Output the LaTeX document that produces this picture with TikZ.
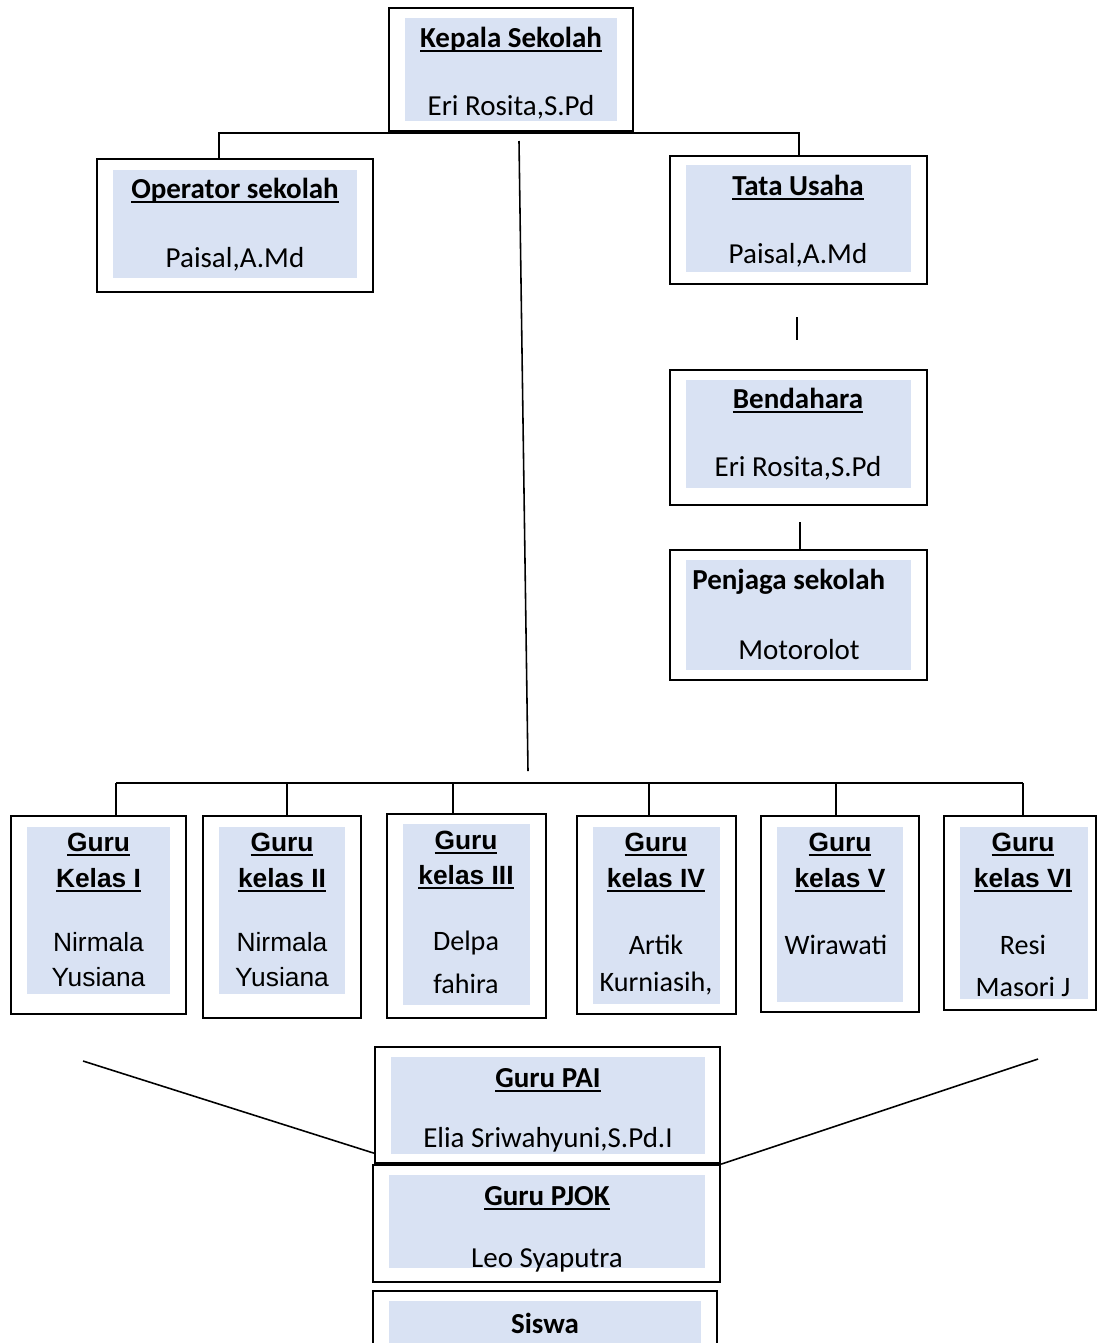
\documentclass[tikz,border=0pt]{standalone}
\usepackage{fontspec}
\setmainfont{Carlito}
\newfontfamily\arialfont{Liberation Sans}
\usetikzlibrary{fit,calc}
\definecolor{boxblue}{RGB}{217,226,243}
\newcommand{\ulined}[1]{\setbox0=\hbox{#1}\rlap{\rule[-2.6pt]{\wd0}{1.2pt}}\box0}

\begin{document}
\begin{tikzpicture}[x=0.02cm,y=-0.02cm,
  frame/.style={draw,line width=1.3pt,inner sep=0pt},
  shade/.style={fill=boxblue,inner sep=0pt},
  link/.style={line width=0.9pt},
  ttl/.style={font=\fontsize{16.5}{19}\selectfont\bfseries,yshift=-0.04cm},
  nm/.style={font=\fontsize{16.5}{19}\selectfont,yshift=-0.04cm},
  gttl/.style={font=\arialfont\fontsize{15}{18}\selectfont\bfseries,yshift=-0.04cm},
  gnm/.style={font=\arialfont\fontsize{15}{18}\selectfont,yshift=-0.04cm},
  cnm/.style={font=\fontsize{16}{19}\selectfont,yshift=-0.04cm},
]
\useasboundingbox (0,0) rectangle (1097,1343);
\clip (0,0) rectangle (1097,1343);

% Kepala sekolah
\node[frame,fit={(389,8) (633,131)}] (kepala) {};
\node[shade,fit={(405,18) (617,121)}] (kepalaS) {};
\node[ttl] (kepalaT) at (511,38) {\ulined{Kepala Sekolah}};
\node[nm] (kepalaN) at (511,105) {Eri Rosita,S.Pd};

% Operator sekolah
\node[frame,fit={(97,159) (373,292)}] (opsek) {};
\node[shade,fit={(113,170) (357,278)}] (opsekS) {};
\node[ttl] (opsekT) at (235,189) {\ulined{Operator sekolah}};
\node[nm] (opsekN) at (235,257) {Paisal,A.Md};

% Tata usaha
\node[frame,fit={(670,156) (927,284)}] (tu) {};
\node[shade,fit={(686,165) (911,272)}] (tuS) {};
\node[ttl] (tuT) at (798,186) {\ulined{Tata Usaha}};
\node[nm] (tuN) at (798,253) {Paisal,A.Md};

% Bendahara
\node[frame,fit={(670,370) (927,505)}] (bend) {};
\node[shade,fit={(686,380) (911,488)}] (bendS) {};
\node[ttl] (bendT) at (798,399) {\ulined{Bendahara}};
\node[nm] (bendN) at (798,466) {Eri Rosita,S.Pd};

% Penjaga sekolah
\node[frame,fit={(670,550) (927,680)}] (penjaga) {};
\node[shade,fit={(686,560) (911,670)}] (penjagaS) {};
\node[ttl,anchor=west,inner sep=0pt] (penjagaT) at (692,580) {Penjaga sekolah};
\node[nm] (penjagaN) at (799,648) {Motorolot};

% top connectors
\coordinate (busL) at (219,133);
\coordinate (busR) at (799,133);
\draw[link] (opsek.north -| busL) -- (busL) -- (busR) -- (tu.north -| busR);
\coordinate (gapA) at (797,317);
\coordinate (gapB) at (797,340);
\draw[link] (gapA) -- (gapB);
\coordinate (bendLo) at (800,522);
\draw[link] (bendLo) -- (penjaga.north -| bendLo);
\coordinate (stemTop) at (519,141);
\coordinate (stemEnd) at (528,771);
\draw[link] (stemTop) -- (stemEnd);

% Guru kelas I
\node[frame,fit={(11,816) (186,1014)}] (gA) {};
\node[shade,fit={(27,827) (170,994)}] (gAS) {};
\node[gttl] (gAT1) at (98.5,843) {\ulined{Guru}};
\node[gttl] (gAT2) at (98.5,878) {\ulined{Kelas I}};
\node[gnm] (gAN1) at (98.5,940) {Nirmala};
\node[gnm] (gAN2) at (98.5,975) {Yusiana};

% Guru kelas II
\node[frame,fit={(203,816) (361,1018)}] (gB) {};
\node[shade,fit={(219,827) (345,994)}] (gBS) {};
\node[gttl] (gBT1) at (282,843) {\ulined{Guru}};
\node[gttl] (gBT2) at (282,878) {\ulined{kelas II}};
\node[gnm] (gBN1) at (282,940) {Nirmala};
\node[gnm] (gBN2) at (282,975) {Yusiana};

% Guru kelas III
\node[frame,fit={(387,814) (546,1018)}] (gC) {};
\node[shade,fit={(403,824) (530,1005)}] (gCS) {};
\node[gttl] (gCT1) at (466,841) {\ulined{Guru}};
\node[gttl] (gCT2) at (466,875) {\ulined{kelas III}};
\node[cnm] (gCN1) at (466,941) {Delpa};
\node[cnm] (gCN2) at (466,982) {fahira};

% Guru kelas IV
\node[frame,fit={(577,816) (736,1014)}] (gD) {};
\node[shade,fit={(593,827) (720,1004)}] (gDS) {};
\node[gttl] (gDT1) at (656,843) {\ulined{Guru}};
\node[gttl] (gDT2) at (656,878) {\ulined{kelas IV}};
\node[cnm] (gDN1) at (656,943) {Artik};
\node[cnm] (gDN2) at (656,982) {Kurniasih,};

% Guru kelas V
\node[frame,fit={(761,816) (919,1012)}] (gE) {};
\node[shade,fit={(777,827) (903,1002)}] (gES) {};
\node[gttl] (gET1) at (840,843) {\ulined{Guru}};
\node[gttl] (gET2) at (840,878) {\ulined{kelas V}};
\node[cnm] (gEN1) at (836,943) {Wirawati};

% Guru kelas VI
\node[frame,fit={(944,816) (1096,1010)}] (gF) {};
\node[shade,fit={(960,827) (1088,999)}] (gFS) {};
\node[gttl] (gFT1) at (1023,843) {\ulined{Guru}};
\node[gttl] (gFT2) at (1023,878) {\ulined{kelas VI}};
\node[cnm] (gFN1) at (1023,943) {Resi};
\node[cnm] (gFN2) at (1023,985) {Masori J};

% bottom bus
\coordinate (busBL) at (116,783);
\coordinate (busBR) at (1023,783);
\draw[link] (busBL) -- (busBR);
\foreach \tx/\g in {116/gA,287/gB,453/gC,649/gD,836/gE,1023/gF}{
  \coordinate (tick) at (\tx,783);
  \draw[link] (tick) -- (tick |- \g.north);
}

% Guru PAI
\node[frame,fit={(375,1047) (720,1163)}] (pai) {};
\node[shade,fit={(391,1057) (705,1154)}] (paiS) {};
\node[ttl] (paiT) at (548,1078) {\ulined{Guru PAI}};
\node[nm] (paiN) at (548,1138) {Elia Sriwahyuni,S.Pd.I};

% Guru PJOK
\node[frame,fit={(373,1165) (720,1282)}] (pjok) {};
\node[shade,fit={(389,1175) (705,1268)}] (pjokS) {};
\node[ttl] (pjokT) at (547,1196) {\ulined{Guru PJOK}};
\node[nm] (pjokN) at (547,1258) {Leo Syaputra};

% Siswa
\node[frame,fit={(373,1291) (717,1370)}] (siswa) {};
\node[shade,fit={(389,1301) (701,1360)}] (siswaS) {};
\node[ttl] (siswaT) at (545,1321) {Siswa};

% side lines to Guru PAI
\coordinate (sideL) at (83,1061);
\coordinate (sideR) at (1038,1059);
\draw[link] (sideL) -- ($(pai.south west)+(0,-11)$);
\draw[link] (sideR) -- (pai.south east);
\end{tikzpicture}
\end{document}
